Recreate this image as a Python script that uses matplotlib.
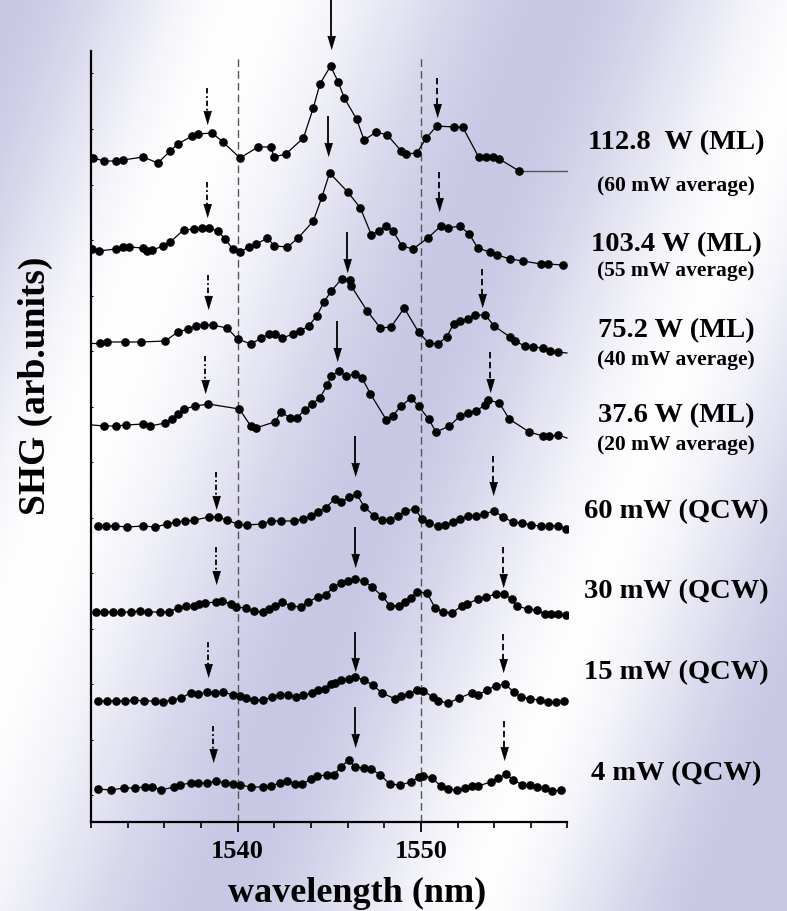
import numpy as np
import matplotlib
matplotlib.use("Agg")
import matplotlib.pyplot as plt

# ---------------- data ----------------
wl_112 = [1532.12, 1532.72, 1533.35, 1533.75, 1534.84, 1535.65, 1536.32, 1536.74, 1537.52, 1537.86,
          1538.61, 1539.20, 1540.13, 1541.11, 1541.81, 1541.99, 1542.63, 1543.59, 1544.13, 1544.49,
          1545.07, 1545.49, 1545.82, 1546.49, 1546.90, 1547.57, 1548.17, 1548.93, 1549.20, 1549.78,
          1550.29, 1550.87, 1551.78, 1552.28, 1553.15, 1553.55, 1553.95, 1554.28, 1555.36]
shg_112 = [6.64, 6.61, 6.61, 6.62, 6.65, 6.59, 6.71, 6.78, 6.86, 6.88,
           6.89, 6.80, 6.64, 6.75, 6.75, 6.65, 6.68, 6.84, 7.14, 7.38,
           7.56, 7.40, 7.24, 7.03, 6.82, 6.90, 6.87, 6.71, 6.68, 6.69,
           6.84, 6.96, 6.95, 6.95, 6.65, 6.65, 6.65, 6.63, 6.51]
tail_112_wl = [1555.36, 1558.0]
tail_112_shg = [6.51, 6.51]

wl_103 = [1532.03, 1532.43, 1533.35, 1533.75, 1534.06, 1534.84, 1535.05, 1535.34, 1535.94, 1536.32,
          1537.05, 1537.64, 1538.04, 1538.46, 1538.91, 1539.33, 1539.73, 1540.14, 1540.60, 1541.03,
          1541.63, 1542.01, 1542.72, 1543.30, 1544.13, 1544.60, 1545.02, 1546.01, 1546.70, 1547.30,
          1547.70, 1548.08, 1548.48, 1548.97, 1549.57, 1550.38, 1551.09, 1551.49, 1552.12, 1552.64,
          1553.10, 1553.77, 1554.18, 1554.87, 1555.58, 1556.54, 1556.94, 1557.75]
shg_103 = [5.73, 5.71, 5.73, 5.75, 5.75, 5.74, 5.71, 5.72, 5.76, 5.80,
           5.92, 5.93, 5.94, 5.94, 5.91, 5.83, 5.73, 5.70, 5.75, 5.78,
           5.84, 5.76, 5.75, 5.84, 6.01, 6.25, 6.49, 6.30, 6.14, 5.87,
           5.91, 5.96, 5.91, 5.76, 5.73, 5.84, 5.96, 5.94, 5.96, 5.88,
           5.74, 5.70, 5.67, 5.63, 5.61, 5.58, 5.58, 5.57]

wl_75 = [1532.48, 1532.90, 1533.84, 1534.75, 1536.05, 1536.74, 1537.32, 1537.74, 1538.15, 1538.64,
         1539.42, 1540.00, 1540.72, 1541.30, 1541.72, 1542.03, 1542.43, 1543.03, 1543.41, 1543.88,
         1544.31, 1544.71, 1545.11, 1545.67, 1546.12, 1546.20, 1547.07, 1547.79, 1548.37, 1549.09,
         1549.87, 1550.42, 1550.91, 1551.41, 1551.78, 1552.14, 1552.55, 1552.95, 1553.51, 1554.00,
         1554.86, 1555.13, 1555.67, 1556.12, 1556.67, 1557.03, 1557.48]
shg_75 = [4.79, 4.80, 4.80, 4.80, 4.81, 4.90, 4.93, 4.96, 4.97, 4.97,
          4.94, 4.83, 4.78, 4.84, 4.88, 4.88, 4.84, 4.88, 4.91, 4.96,
          5.06, 5.20, 5.31, 5.43, 5.42, 5.36, 5.11, 4.94, 4.95, 5.14,
          4.90, 4.79, 4.78, 4.85, 4.98, 5.01, 5.03, 5.07, 5.07, 4.96,
          4.85, 4.81, 4.76, 4.75, 4.74, 4.71, 4.70]
ends_75_wl = [1532.08, 1557.97]
ends_75_shg = [4.79, 4.69]

wl_37 = [1532.72, 1533.39, 1533.93, 1534.84, 1535.23, 1536.05, 1536.41, 1536.74, 1537.10, 1537.68,
         1538.41, 1540.09, 1540.72, 1540.98, 1542.02, 1542.39, 1542.85, 1543.22, 1543.66, 1544.06,
         1544.49, 1544.89, 1545.11, 1545.53, 1545.94, 1546.43, 1546.79, 1547.25, 1548.12, 1548.46,
         1548.91, 1549.47, 1549.87, 1550.42, 1550.83, 1551.56, 1552.14, 1552.59, 1553.01, 1553.50,
         1553.68, 1554.28, 1554.82, 1555.91, 1556.67, 1557.00, 1557.48]
shg_37 = [3.96, 3.96, 3.97, 3.98, 3.96, 3.99, 4.03, 4.08, 4.13, 4.16,
          4.18, 4.13, 3.96, 3.94, 4.00, 4.10, 4.04, 4.04, 4.12, 4.18,
          4.24, 4.37, 4.46, 4.51, 4.46, 4.48, 4.44, 4.28, 4.02, 4.06,
          4.16, 4.24, 4.16, 4.03, 3.90, 3.96, 4.06, 4.09, 4.11, 4.17,
          4.22, 4.19, 4.03, 3.90, 3.86, 3.86, 3.87]
ends_37_wl = [1532.08, 1557.97]
ends_37_shg = [3.97, 3.84]

wl_60q = [1532.39, 1532.84, 1533.30, 1533.97, 1534.84, 1535.51, 1536.16, 1536.65, 1537.14, 1537.64,
          1538.46, 1538.91, 1539.40, 1540.00, 1540.51, 1541.32, 1541.81, 1542.39, 1543.08, 1543.59,
          1543.99, 1544.38, 1544.80, 1545.29, 1545.65, 1546.10, 1546.49, 1546.92, 1547.46, 1547.88,
          1548.33, 1548.75, 1549.15, 1549.69, 1550.05, 1550.42, 1550.91, 1551.32, 1551.74, 1552.14,
          1552.59, 1553.01, 1553.44, 1553.98, 1554.49, 1555.00, 1555.54, 1556.03, 1556.54, 1556.99,
          1557.48, 1557.93]
shg_60q = [2.96, 2.96, 2.96, 2.95, 2.96, 2.95, 2.98, 3.00, 3.01, 3.02,
           3.05, 3.05, 3.02, 2.98, 2.97, 2.98, 3.01, 3.01, 3.01, 3.03,
           3.06, 3.10, 3.14, 3.23, 3.20, 3.25, 3.28, 3.15, 3.06, 3.02,
           3.02, 3.06, 3.11, 3.13, 3.03, 2.99, 2.96, 2.97, 3.00, 3.03,
           3.06, 3.06, 3.08, 3.11, 3.05, 3.00, 2.99, 2.97, 2.96, 2.96,
           2.96, 2.93]

wl_30q = [1532.30, 1532.72, 1533.21, 1533.66, 1534.17, 1534.66, 1535.11, 1535.74, 1536.23, 1536.74,
          1537.19, 1537.64, 1537.92, 1538.22, 1538.82, 1539.13, 1539.64, 1539.91, 1540.45, 1540.91,
          1541.36, 1541.72, 1542.05, 1542.41, 1542.93, 1543.44, 1543.84, 1544.38, 1544.80, 1545.22,
          1545.62, 1546.03, 1546.43, 1546.88, 1547.34, 1547.88, 1548.33, 1548.79, 1549.15, 1549.46,
          1549.78, 1550.33, 1550.78, 1551.20, 1551.69, 1552.23, 1552.50, 1553.13, 1553.55, 1554.09,
          1554.53, 1554.95, 1555.22, 1555.85, 1556.34, 1556.76, 1557.12, 1557.48, 1557.93]
shg_30q = [2.10, 2.10, 2.10, 2.10, 2.10, 2.11, 2.10, 2.10, 2.10, 2.14,
           2.16, 2.16, 2.18, 2.19, 2.20, 2.21, 2.18, 2.15, 2.14, 2.11,
           2.10, 2.13, 2.16, 2.20, 2.16, 2.15, 2.20, 2.25, 2.27, 2.35,
           2.39, 2.41, 2.43, 2.41, 2.35, 2.26, 2.16, 2.16, 2.20, 2.24,
           2.30, 2.29, 2.14, 2.10, 2.09, 2.16, 2.18, 2.23, 2.25, 2.28,
           2.28, 2.23, 2.16, 2.13, 2.12, 2.08, 2.08, 2.08, 2.07]

wl_15q = [1532.36, 1532.90, 1533.35, 1533.84, 1534.35, 1534.89, 1535.51, 1535.92, 1536.41, 1536.92,
          1537.43, 1537.86, 1538.33, 1538.77, 1539.22, 1539.73, 1540.14, 1540.45, 1540.91, 1541.41,
          1541.90, 1542.32, 1542.75, 1543.17, 1543.59, 1544.08, 1544.38, 1544.75, 1545.08, 1545.30,
          1545.66, 1546.07, 1546.43, 1546.88, 1547.37, 1547.88, 1548.60, 1548.91, 1549.33, 1549.78,
          1550.14, 1550.65, 1550.96, 1551.50, 1552.10, 1552.77, 1553.13, 1553.59, 1554.09, 1554.58,
          1555.07, 1555.49, 1555.98, 1556.49, 1556.94, 1557.36, 1557.79]
shg_15q = [1.21, 1.21, 1.21, 1.21, 1.22, 1.21, 1.21, 1.20, 1.22, 1.24,
           1.29, 1.28, 1.30, 1.29, 1.30, 1.27, 1.26, 1.24, 1.22, 1.22,
           1.25, 1.27, 1.27, 1.25, 1.27, 1.29, 1.32, 1.33, 1.38, 1.39,
           1.42, 1.43, 1.45, 1.42, 1.37, 1.29, 1.23, 1.26, 1.28, 1.32,
           1.31, 1.25, 1.21, 1.19, 1.24, 1.29, 1.27, 1.32, 1.36, 1.38,
           1.30, 1.25, 1.23, 1.22, 1.20, 1.20, 1.21]

wl_4q = [1532.36, 1533.08, 1533.80, 1534.38, 1534.93, 1535.34, 1535.83, 1536.52, 1536.83, 1537.43,
         1537.86, 1538.33, 1538.82, 1539.31, 1539.73, 1540.14, 1540.72, 1541.41, 1541.81, 1542.30,
         1542.72, 1543.12, 1543.53, 1544.02, 1544.35, 1544.86, 1545.25, 1545.62, 1546.07, 1546.39,
         1546.88, 1547.28, 1547.79, 1548.30, 1548.84, 1549.47, 1549.87, 1550.14, 1550.60, 1551.09,
         1551.50, 1551.96, 1552.41, 1552.77, 1553.13, 1553.80, 1554.22, 1554.64, 1555.04, 1555.54,
         1555.98, 1556.36, 1556.76, 1557.18, 1557.66]
shg_4q = [0.33, 0.32, 0.34, 0.34, 0.35, 0.35, 0.32, 0.35, 0.37, 0.39,
          0.39, 0.39, 0.41, 0.39, 0.38, 0.37, 0.35, 0.35, 0.36, 0.39,
          0.41, 0.38, 0.38, 0.43, 0.46, 0.47, 0.47, 0.55, 0.62, 0.55,
          0.54, 0.53, 0.47, 0.38, 0.37, 0.40, 0.45, 0.46, 0.44, 0.36,
          0.33, 0.32, 0.34, 0.36, 0.36, 0.40, 0.44, 0.48, 0.42, 0.37,
          0.37, 0.35, 0.34, 0.31, 0.32]

labels_main = ["112.8  W (ML)", "103.4 W (ML)", "75.2 W (ML)", "37.6 W (ML)",
               "60 mW (QCW)", "30 mW (QCW)", "15 mW (QCW)", "4 mW (QCW)"]
labels_sub = ["(60 mW average)", "(55 mW average)", "(40 mW average)", "(20 mW average)"]

# arrows: main peak (solid), short-wavelength peak (dotted), long-wavelength peak (dashed)
arrow_main_wl = [1545.07, 1544.93, 1545.98, 1545.43, 1546.43, 1546.43, 1546.43, 1546.43]
arrow_main_tail = [8.23, 7.06, 5.90, 5.01, 3.86, 2.95, 1.90, 1.15]
arrow_main_tip = [7.73, 6.66, 5.50, 4.61, 3.46, 2.55, 1.51, 0.75]
arrow_left_wl = [1538.32, 1538.32, 1538.37, 1538.22, 1538.82, 1538.82, 1538.40, 1538.64]
arrow_left_tail = [7.34, 6.40, 5.47, 4.66, 3.50, 2.75, 1.80, 0.96]
arrow_left_tip = [6.98, 6.05, 5.13, 4.29, 3.13, 2.38, 1.45, 0.60]
arrow_right_wl = [1550.87, 1551.01, 1553.35, 1553.77, 1553.91, 1554.49, 1554.49, 1554.55]
arrow_right_tail = [7.44, 6.50, 5.53, 4.70, 3.66, 2.75, 1.88, 1.01]
arrow_right_tip = [7.05, 6.11, 5.15, 4.30, 3.27, 2.35, 1.50, 0.62]

ref_lines_wl = [1540, 1550]

# ---------------- figure ----------------
W, H = 787, 912
fig = plt.figure(figsize=(W / 100, H / 100), dpi=100)

# background gradient
bg = fig.add_axes([0, 0, 1, 1], zorder=-10)
yy, xx = np.mgrid[0:H, 0:W]
u = xx + 0.38 * yy
t = np.interp(u, [-200, 0, 250, 560, 820, 1060, 1600], [1, 1, 0, 1, 0.05, 1, 1])
t = t * t * (3 - 2 * t)
lav = np.array([200, 200, 229]) / 255.0
img = (1 - t[..., None]) * 1.0 + t[..., None] * lav
bg.imshow(img, extent=[0, 1, 0, 1], aspect="auto", interpolation="bilinear")
bg.set_axis_off()

ax = fig.add_axes([91 / W, (H - 823) / H, 476.5 / W, 771 / H])
ax.set_facecolor("none")
ax.set_xlim(1532, 1558)
ax.set_ylim(0, 7.71)

serif = ["Liberation Serif", "DejaVu Serif"]

for wl in ref_lines_wl:
    ax.plot([wl, wl], [0, 7.65], color="#555555", lw=1.0, dashes=(5.5, 3.0), zorder=1)

series = [(wl_112, shg_112), (wl_103, shg_103), (wl_75, shg_75), (wl_37, shg_37),
          (wl_60q, shg_60q), (wl_30q, shg_30q), (wl_15q, shg_15q), (wl_4q, shg_4q)]
for wl, s in series:
    ax.plot(wl, s, color="black", lw=0.9, marker="o", ms=5.2, mfc="black", mec="black", zorder=3)
ax.plot(tail_112_wl, tail_112_shg, color="#555555", lw=1.0, zorder=2)
for ewl, eshg, wl, s in [(ends_75_wl, ends_75_shg, wl_75, shg_75), (ends_37_wl, ends_37_shg, wl_37, shg_37)]:
    ax.plot([ewl[0], wl[0]], [eshg[0], s[0]], color="black", lw=0.9, zorder=2)
    ax.plot([wl[-1], ewl[1]], [s[-1], eshg[1]], color="black", lw=0.9, zorder=2)

head = [(-3.0, 10.0), (3.0, 10.0), (0.0, 0.0)]


def arrow(x, y0, y1, ls):
    ax.plot([x, x], [y0, y1 + 0.1], color="black", lw=1.3, linestyle=ls,
            clip_on=False, zorder=4, solid_capstyle="butt")
    ax.plot([x], [y1], marker=head, ms=19, color="black", mec="black", mew=0.5,
            linestyle="none", clip_on=False, zorder=4)


for i in range(8):
    arrow(arrow_main_wl[i], arrow_main_tail[i], arrow_main_tip[i], "-")
    arrow(arrow_left_wl[i], arrow_left_tail[i], arrow_left_tip[i], (0, (3, 1.5, 1, 1.5)))
    arrow(arrow_right_wl[i], arrow_right_tail[i], arrow_right_tip[i], (0, (3.5, 2)))

# spines and ticks
for side in ["top", "right"]:
    ax.spines[side].set_visible(False)
ax.spines["left"].set_linewidth(1.6)
ax.spines["bottom"].set_linewidth(1.6)
ax.set_xticks(ref_lines_wl)
ax.set_xticks(np.arange(1532, 1559, 2), minor=True)
ax.set_xticklabels([str(v) for v in ref_lines_wl], fontfamily=serif, fontweight="bold", fontsize=19)
ax.tick_params(axis="x", which="major", direction="out", length=7.5, width=1.3, pad=5)
ax.tick_params(axis="x", which="minor", direction="out", length=4, width=1.2)
ax.set_yticks([])
ax.set_yticks(np.arange(0.27, 7.6, 0.555), minor=True)
ax.tick_params(axis="y", which="minor", direction="in", length=1.5, width=0.7)

fig.text(357 / W, 1 - 893 / H, "wavelength (nm)", ha="center", va="center",
         fontfamily=serif, fontweight="bold", fontsize=26)
fig.text(35 / W, 1 - 386 / H, "SHG (arb.units)", ha="center", va="center", rotation=90,
         fontfamily=serif, fontweight="bold", fontsize=27)

main_y = [143, 245, 331, 416, 512, 592, 673, 774]
sub_y = [186, 271, 360, 445]
for lab, yp in zip(labels_main, main_y):
    fig.text(676 / W, 1 - yp / H, lab, ha="center", va="center",
             fontfamily=serif, fontweight="bold", fontsize=20.5)
for lab, yp in zip(labels_sub, sub_y):
    fig.text(676 / W, 1 - yp / H, lab, ha="center", va="center",
             fontfamily=serif, fontweight="bold", fontsize=15.5)

fig.savefig("out.png", dpi=100)
